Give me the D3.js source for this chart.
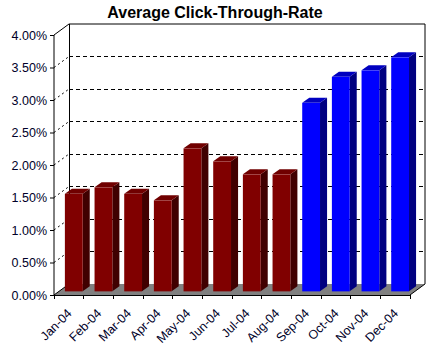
<!DOCTYPE html>
<html>
<head>
<meta charset="utf-8">
<script src="https://cdnjs.cloudflare.com/ajax/libs/d3/7.8.5/d3.min.js"></script>
<style>
  body { margin: 0; background: #fff; }
  svg { display: block; font-family: "Liberation Sans", Arial, sans-serif; }
</style>
</head>
<body>
<div id="cht"></div>
<script>
// data (percent)
const months = ["Jan-04", "Feb-04", "Mar-04", "Apr-04", "May-04", "Jun-04",
  "Jul-04", "Aug-04", "Sep-04", "Oct-04", "Nov-04", "Dec-04"];
const ctr = [1.5, 1.6, 1.5, 1.4, 2.2, 2.0, 1.8, 1.8, 2.9, 3.3, 3.4, 3.6];
const highlight = [false, false, false, false, false, false,
  false, false, true, true, true, true];
const yTicks = [0, 0.5, 1, 1.5, 2, 2.5, 3, 3.5, 4];

const width = 435, height = 351;
const depthX = 15, depthY = -11; // 3d wall offset

const svg = d3.select("#cht").append("svg")
  .attr("width", width)
  .attr("height", height);

const x = d3.scaleBand().domain(months).range([54, 410]);
const y = d3.scaleLinear().domain([0, 4]).range([295, 35]);

const faces = {
  red: { front: "#800000", side: "#400000", top: "#700000" },
  blue: { front: "#0000ff", side: "#000080", top: "#0000c0" }
};

// title
svg.append("text")
  .attr("x", 215)
  .attr("y", 18)
  .attr("text-anchor", "middle")
  .style("font-size", "16px")
  .style("font-weight", "bold")
  .text("Average Click-Through-Rate");

const x0 = x.range()[0], x1 = x.range()[1];
const yb = y(0), yt = y(4);

// floor
svg.append("path")
  .attr("d", "M" + x0 + "," + yb + "L" + x1 + "," + yb +
    "L" + (x1 + depthX) + "," + (yb + depthY) + "L" + (x0 + depthX) + "," + (yb + depthY) + "Z")
  .attr("fill", "#808080");

// back wall gridlines
svg.append("g")
  .selectAll("line")
  .data(yTicks.filter(d => d > 0 && d < 4))
  .join("line")
  .attr("x1", x0 + depthX)
  .attr("x2", x1 + depthX)
  .attr("y1", d => y(d) + depthY)
  .attr("y2", d => y(d) + depthY)
  .attr("stroke", "#000")
  .attr("stroke-dasharray", "4,3")
  .attr("shape-rendering", "crispEdges");

// diagonal tick connectors on left wall
svg.append("g")
  .selectAll("line")
  .data(yTicks.filter(d => d > 0 && d < 4))
  .join("line")
  .attr("x1", x0)
  .attr("x2", x0 + depthX)
  .attr("y1", d => y(d))
  .attr("y2", d => y(d) + depthY)
  .attr("stroke", "#000")
  .attr("stroke-dasharray", "2,3");

// wall outline
svg.append("path")
  .attr("d", "M" + x0 + "," + yt + "L" + (x0 + depthX) + "," + (yt + depthY) +
    "L" + (x1 + depthX) + "," + (yt + depthY) + "L" + (x1 + depthX) + "," + (yb + depthY) +
    "L" + x1 + "," + yb)
  .attr("fill", "none")
  .attr("stroke", "#000");
svg.append("line")
  .attr("x1", x0 + depthX).attr("x2", x0 + depthX)
  .attr("y1", yt + depthY).attr("y2", yb + depthY)
  .attr("stroke", "#000")
  .attr("shape-rendering", "crispEdges");
svg.append("line")
  .attr("x1", x0).attr("y1", yb)
  .attr("x2", x0 + depthX).attr("y2", yb + depthY)
  .attr("stroke", "#000");

// bars
const bw = x.bandwidth() * 0.6;
const zf = 0.33, zb = 0.8; // bar front / back depth fraction
const bars = svg.append("g")
  .selectAll("g")
  .data(months.map((m, i) => ({ key: m, value: ctr[i], c: highlight[i] ? faces.blue : faces.red })))
  .join("g");

bars.each(function(d) {
  const g = d3.select(this);
  const fx = x(d.key) + (x.bandwidth() - bw) / 2 + depthX * zf;
  const fy = y(d.value) + depthY * zf;
  const by = y(0) + depthY * zf;
  const ddx = depthX * (zb - zf), ddy = depthY * (zb - zf);
  // side
  g.append("path")
    .attr("d", "M" + (fx + bw) + "," + fy + "L" + (fx + bw + ddx) + "," + (fy + ddy) +
      "L" + (fx + bw + ddx) + "," + (by + ddy) + "L" + (fx + bw) + "," + by + "Z")
    .attr("fill", d.c.side);
  // top
  g.append("path")
    .attr("d", "M" + fx + "," + fy + "L" + (fx + ddx) + "," + (fy + ddy) +
      "L" + (fx + bw + ddx) + "," + (fy + ddy) + "L" + (fx + bw) + "," + fy + "Z")
    .attr("fill", d.c.top);
  // front
  g.append("rect")
    .attr("x", fx)
    .attr("y", fy)
    .attr("width", bw)
    .attr("height", by - fy)
    .attr("fill", d.c.front);
});

// y axis
const yAxis = svg.append("g")
  .attr("transform", "translate(" + x0 + ",0)")
  .call(d3.axisLeft(y).tickValues(yTicks).tickSize(4).tickPadding(3)
    .tickFormat(d => d3.format(".2f")(d) + "%"));
yAxis.select(".domain").attr("d", "M0," + yt + "V" + yb);
yAxis.selectAll("text")
  .style("font-size", "12.5px")
  .style("font-family", "'Liberation Sans', Arial, sans-serif")
  .attr("fill", "#000028");

// x axis
const xAxis = svg.append("g")
  .attr("transform", "translate(0," + yb + ")");
xAxis.append("line")
  .attr("x1", x0).attr("x2", x1)
  .attr("stroke", "#000")
  .attr("shape-rendering", "crispEdges");
xAxis.selectAll(".tk")
  .data(months.concat(["end"]))
  .join("line")
  .attr("class", "tk")
  .attr("x1", (d, i) => i < months.length ? x(d) : x1)
  .attr("x2", (d, i) => i < months.length ? x(d) : x1)
  .attr("y1", 0)
  .attr("y2", 4)
  .attr("stroke", "#000")
  .attr("shape-rendering", "crispEdges");
xAxis.selectAll(".lbl")
  .data(months)
  .join("text")
  .attr("class", "lbl")
  .attr("text-anchor", "end")
  .attr("transform", d => "translate(" + (x(d) + x.bandwidth() / 2 - 2.5) + ",13) rotate(-45)")
  .attr("dy", "0.7em")
  .style("font-size", "12.5px")
  .attr("fill", "#000028")
  .text(d => d);
</script>
</body>
</html>
